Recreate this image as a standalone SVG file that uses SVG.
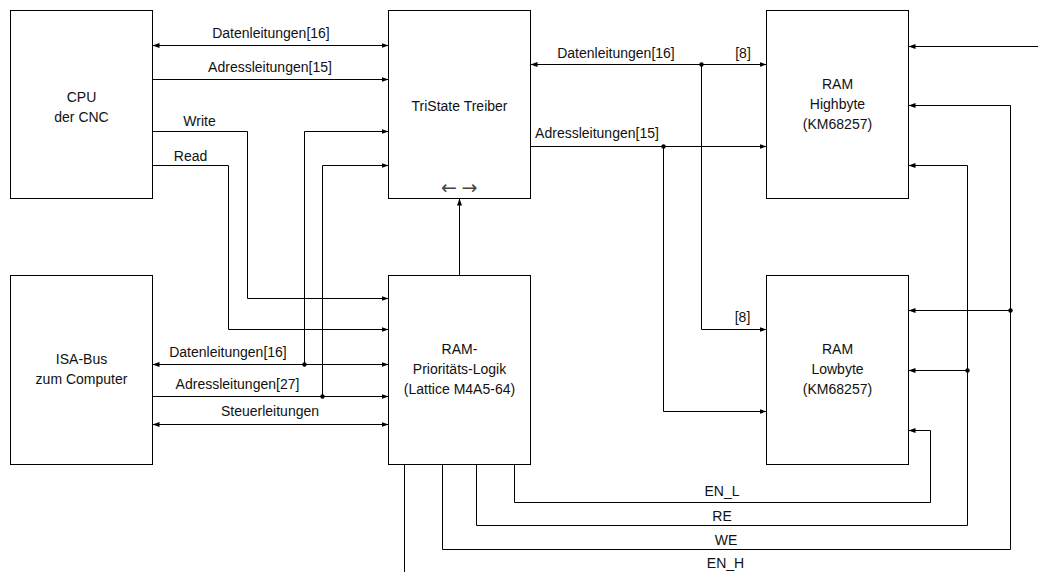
<svg xmlns="http://www.w3.org/2000/svg" width="1038" height="572" viewBox="0 0 1038 572">
<style>
.box{fill:#fff;stroke:#000;stroke-width:1}
.t{font-family:"Liberation Sans",Arial,sans-serif;font-size:14px;fill:#111;text-anchor:middle}
.g{font-family:"DejaVu Sans",sans-serif;font-size:19px;fill:#444;text-anchor:middle}
.w{fill:none;stroke:#000;stroke-width:1}
.a{marker-end:url(#ah)}
.d{marker-start:url(#ah);marker-end:url(#ah)}
.dot{fill:#000}
</style>
<defs>
<marker id="ah" markerUnits="userSpaceOnUse" markerWidth="8" markerHeight="6" refX="7" refY="3" orient="auto-start-reverse">
<path d="M0,0.5 L7,3 L0,5.5 z" fill="#000"/>
</marker>
</defs>
<g id="cpu"><rect class="box" x="10.5" y="10.5" width="142" height="188"/><text class="t" x="81.5" y="101.5">CPU</text><text class="t" x="81.5" y="121.5">der CNC</text></g>
<g id="tristate"><rect class="box" x="388.5" y="10.5" width="142" height="188"/><text class="t" x="459.5" y="111">TriState Treiber</text><text class="g" x="449" y="193.5">←</text><text class="g" x="469.5" y="193.5">→</text></g>
<g id="ramhigh"><rect class="box" x="766.5" y="10.5" width="142" height="188"/><text class="t" x="837.5" y="88.5">RAM</text><text class="t" x="837.5" y="108.5">Highbyte</text><text class="t" x="837.5" y="128.5">(KM68257)</text></g>
<g id="isa"><rect class="box" x="10.5" y="275.5" width="142" height="189"/><text class="t" x="81.5" y="363.5">ISA-Bus</text><text class="t" x="81.5" y="383.5">zum Computer</text></g>
<g id="logic"><rect class="box" x="388.5" y="275.5" width="142" height="189"/><text class="t" x="459.5" y="354">RAM-</text><text class="t" x="459.5" y="374">Prioritäts-Logik</text><text class="t" x="459.5" y="394">(Lattice M4A5-64)</text></g>
<g id="ramlow"><rect class="box" x="766.5" y="275.5" width="142" height="189"/><text class="t" x="837.5" y="354">RAM</text><text class="t" x="837.5" y="374">Lowbyte</text><text class="t" x="837.5" y="394">(KM68257)</text></g>
<g id="connectors">
<path class="w d" d="M152.5,45.5 H388.5"/>
<path class="w a" d="M152.5,79.5 H388.5"/>
<path class="w a" d="M152.5,131.5 H247.5 V298.5 H388.5"/>
<path class="w a" d="M152.5,165.5 H228.5 V329.5 H388.5"/>
<path class="w d" d="M152.5,364.5 H388.5"/>
<path class="w a" d="M304.5,364.5 V131.5 H388.5"/>
<circle class="dot" cx="304.5" cy="364.5" r="2.2"/>
<path class="w a" d="M152.5,396.5 H388.5"/>
<path class="w a" d="M322.5,396.5 V165.5 H388.5"/>
<circle class="dot" cx="322.5" cy="396.5" r="2.2"/>
<path class="w d" d="M152.5,424.5 H388.5"/>
<path class="w a" d="M459.5,275.5 V198.5"/>
<path class="w d" d="M530.5,64.5 H766.5"/>
<path class="w a" d="M701.5,64.5 V329.5 H766.5"/>
<circle class="dot" cx="701.5" cy="64.5" r="2.2"/>
<path class="w a" d="M530.5,146.5 H766.5"/>
<path class="w a" d="M663.5,146.5 V411.5 H766.5"/>
<circle class="dot" cx="663.5" cy="146.5" r="2.2"/>
<path class="w a" d="M514.5,464.5 V502.5 H930.5 V430.5 H908.5"/>
<path class="w a" d="M476.5,464.5 V525.5 H967.5 V165.5 H908.5"/>
<path class="w a" d="M967.5,370.5 H908.5"/>
<circle class="dot" cx="967.5" cy="370.5" r="2.2"/>
<path class="w a" d="M442.5,464.5 V549.5 H1010.5 V105.5 H908.5"/>
<path class="w a" d="M1010.5,310.5 H908.5"/>
<circle class="dot" cx="1010.5" cy="310.5" r="2.2"/>
<path class="w" d="M404.5,464.5 V572"/>
<path class="w a" d="M1038,46.5 H908.5"/>
<text class="t" x="271" y="38">Datenleitungen[16]</text>
<text class="t" x="270" y="72">Adressleitungen[15]</text>
<text class="t" x="199.5" y="126">Write</text>
<text class="t" x="190.5" y="160.5">Read</text>
<text class="t" x="228" y="357">Datenleitungen[16]</text>
<text class="t" x="237.5" y="389">Adressleitungen[27]</text>
<text class="t" x="270" y="416">Steuerleitungen</text>
<text class="t" x="616" y="57.5">Datenleitungen[16]</text>
<text class="t" x="743" y="57.5">[8]</text>
<text class="t" x="597" y="137.5">Adressleitungen[15]</text>
<text class="t" x="742.5" y="321.5">[8]</text>
<text class="t" x="722" y="496">EN_L</text>
<text class="t" x="722" y="521">RE</text>
<text class="t" x="726" y="545">WE</text>
<text class="t" x="725.5" y="567.5">EN_H</text>
</g>
</svg>
